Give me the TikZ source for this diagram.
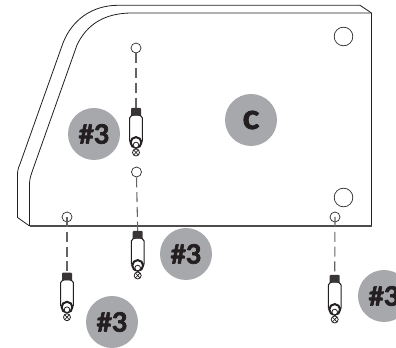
\documentclass[tikz,border=0pt]{standalone}
\usepackage{fontspec}
\setsansfont{Lato}[BoldFont={Lato Bold},BoldFeatures={FakeBold=2.5}]
\definecolor{badgegray}{RGB}{167,168,171}
\definecolor{inkgray}{RGB}{35,31,32}
\tikzset{
  badge/.style={circle,fill=badgegray,minimum size=39pt,inner sep=0pt,text=inkgray,font=\sffamily\bfseries\fontsize{20}{20}\selectfont},
  hole/.style={circle,draw=inkgray,line width=0.5pt,minimum size=7.5pt,inner sep=0pt},
  bighole/.style={circle,draw=inkgray,line width=0.5pt,minimum size=14pt,inner sep=0pt},
  guide/.style={draw=inkgray!70,line width=0.8pt,dash pattern=on 7.5pt off 3.6pt},
  standoff/.pic={
    % body
    \draw[inkgray,line width=0.8pt,fill=white] (-6.4,10) .. controls (-6.2,8) and (-4,7) .. (0,7) .. controls (4,7) and (6.2,8) .. (6.4,10) -- (6.4,33) -- (-6.4,33) -- cycle;
    % cap
    \fill[inkgray!90] (-5,0.8) -- (-4,0) -- (4,0) -- (5,0.8) -- (5,7.5) -- (-5,7.5) -- cycle;
    % nut
    \draw[inkgray,line width=1.5pt,fill=white] (0,34.5) circle (5.4);
    \draw[inkgray,line width=0.6pt,fill=white] (0,37) circle (2.8);
    % screw head
    \draw[inkgray,line width=0.6pt,fill=white] (0,44.5) circle (3.5);
    \draw[inkgray,line width=0.5pt] (-2.4,42) -- (2.4,47) (2.4,42) -- (-2.4,47);
  }
}
\begin{document}
\begin{tikzpicture}[x=0.75pt,y=0.75pt,yscale=-1,xscale=1]
\useasboundingbox (0,0) rectangle (396,348);

%Plate back edge
\draw[inkgray,line width=0.6pt] (29.5,226) -- (17.5,217.5) -- (17.5,176) .. controls (17.5,170) and (18,169) .. (20,164) -- (63,43) .. controls (72,20) and (92,5.3) .. (118,5.3) -- (360,5.3) -- (371.5,13);
%Plate front face
\draw[inkgray,line width=0.6pt] (371.5,13) -- (132,13) .. controls (105,13) and (87,24) .. (77,45) -- (32,172) .. controls (30,178) and (29.5,180) .. (29.5,186) -- (29.5,226);
\draw[inkgray,line width=0.6pt] (371.5,13) -- (371.5,226);
\draw[inkgray!80,line width=1pt] (29.5,226) -- (371.5,226);

% Holes
\node[bighole] (holeTR) at (343.5,36.5) {};
\node[bighole] (holeBR) at (343.5,197.5) {};
\node[hole] (holeA) at (136,48) {};
\node[hole] (holeB) at (136.5,172) {};
\node[hole] (holeC) at (67,217) {};
\node[hole] (holeD) at (335,217) {};

% Standoffs
\coordinate (pinA) at (136,108);
\coordinate (pinB) at (137.7,231);
\coordinate (pinC) at (67,272.7);
\coordinate (pinD) at (334.7,275);
\draw[guide] (holeA.south) -- (pinA);
\draw[guide] (holeB.south) -- (pinB);
\draw[guide] (holeC.center) -- (pinC);
\draw[guide] (holeD.center) -- (pinD);
\pic[yscale=-1] at (pinA) {standoff};
\pic[yscale=-1] at (pinB) {standoff};
\pic[yscale=-1] at (pinC) {standoff};
\pic[yscale=-1] at (pinD) {standoff};

% Badges
\node[badge,font=\sffamily\bfseries\fontsize{26}{26}\selectfont] (partC) at (251,120) {c};
\node[badge] (badgeA) at (94,134) {\#3};
\node[badge] (badgeB) at (186,254) {\#3};
\node[badge] (badgeC) at (112,322) {\#3};
\node[badge] (badgeD) at (384,296) {\#3};
\end{tikzpicture}
\end{document}
